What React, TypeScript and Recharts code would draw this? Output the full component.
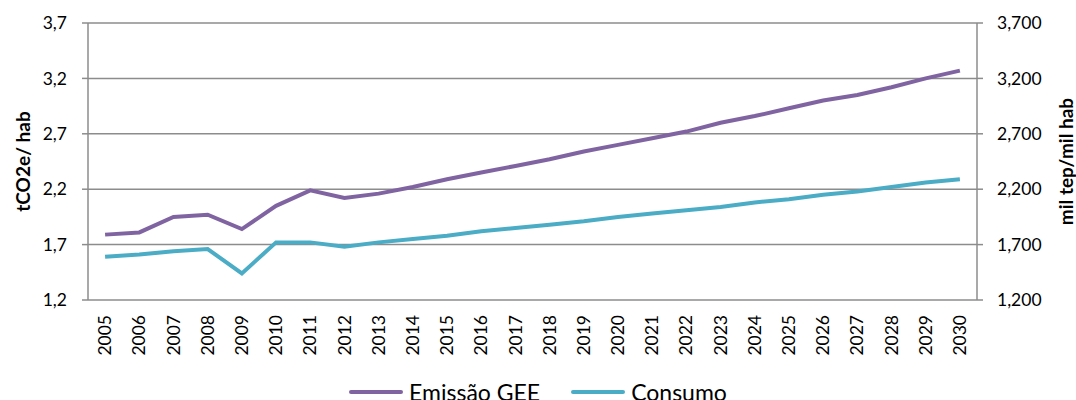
import { LineChart, Line, XAxis, YAxis, CartesianGrid, Legend } from "recharts";

const years = [
  "2005", "2006", "2007", "2008", "2009", "2010", "2011", "2012", "2013",
  "2014", "2015", "2016", "2017", "2018", "2019", "2020", "2021", "2022",
  "2023", "2024", "2025", "2026", "2027", "2028", "2029", "2030",
];
// tCO2e/hab
const emissao = [
  1.79, 1.81, 1.95, 1.97, 1.84, 2.05, 2.19, 2.12, 2.16, 2.22, 2.29, 2.35, 2.41,
  2.47, 2.54, 2.6, 2.66, 2.72, 2.8, 2.86, 2.93, 3.0, 3.05, 3.12, 3.2, 3.27,
];
// mil tep/mil hab
const consumo = [
  1590, 1610, 1640, 1660, 1440, 1720, 1720, 1680, 1720, 1750, 1780, 1820, 1850,
  1880, 1910, 1950, 1980, 2010, 2040, 2080, 2110, 2150, 2180, 2220, 2260, 2290,
];
const seriesNames = ["Emissão GEE", "Consumo"];
const leftTicks = [1.2, 1.7, 2.2, 2.7, 3.2, 3.7];
const rightTicks = [1200, 1700, 2200, 2700, 3200, 3700];

const data = years.map((year, i) => ({
  year,
  idx: i,
  emissao: emissao[i],
  consumo: consumo[i],
}));
const boundaries = [...years.map((_, i) => i), years.length];

const FONT = "Lato, 'Open Sans', sans-serif";
const GRID = "#8c8c8c";
const PURPLE = "#8064A2";
const TEAL = "#4BACC6";

function YearTick({ x, y, payload }: any) {
  return (
    <text
      x={x}
      y={y}
      transform={`rotate(-90 ${x} ${y})`}
      textAnchor="end"
      dy="0.35em"
      fontSize={17.5}
      fontFamily={FONT}
      fill="#000"
    >
      {payload.value}
    </text>
  );
}

function AxisTitle({ viewBox, value, dx }: any) {
  const x = viewBox.x + dx;
  const y = viewBox.y + viewBox.height / 2;
  return (
    <text
      x={x}
      y={y}
      transform={`rotate(-90 ${x} ${y})`}
      textAnchor="middle"
      dy="0.35em"
      fontSize={19}
      fontWeight="bold"
      fontFamily={FONT}
      fill="#000"
    >
      {value}
    </text>
  );
}

function LegendContent({ payload }: any) {
  const items = [...(payload || [])].sort(
    (a: any, b: any) => seriesNames.indexOf(a.value) - seriesNames.indexOf(b.value)
  );
  return (
    <div
      style={{
        display: "flex",
        justifyContent: "center",
        alignItems: "center",
        height: 22,
        fontFamily: FONT,
        fontSize: 23,
        color: "#000",
      }}
    >
      {items.map((item: any, i: number) => (
        <div key={item.value} style={{ display: "flex", alignItems: "center", marginLeft: i ? 31 : 0 }}>
          <svg width={54} height={6} style={{ marginRight: 6 }}>
            <line x1={2} y1={3} x2={52} y2={3} stroke={item.color} strokeWidth={4} strokeLinecap="round" />
          </svg>
          <span>{item.value}</span>
        </div>
      ))}
    </div>
  );
}

export default function App() {
  return (
    <div style={{ position: "absolute", left: 0, top: 0 }}>
      <LineChart width={1076} height={400} data={data} margin={{ top: 23, right: 0, left: 0, bottom: 0 }}>
        <CartesianGrid yAxisId="left" xAxisId="years" vertical={false} stroke={GRID} strokeWidth={1.5} />
        <XAxis
          xAxisId="frame"
          type="number"
          dataKey="idx"
          domain={[0, years.length]}
          ticks={boundaries}
          allowDataOverflow
          height={0}
          stroke={GRID}
          strokeWidth={1.5}
          tickSize={6}
          tick={() => <g />}
        />
        <XAxis
          xAxisId="years"
          dataKey="year"
          type="category"
          scale="band"
          interval={0}
          height={78}
          axisLine={false}
          tickLine={false}
          tickSize={0}
          tickMargin={15}
          tick={<YearTick />}
        />
        <YAxis
          yAxisId="left"
          domain={[1.2, 3.7]}
          ticks={leftTicks}
          width={88}
          stroke={GRID}
          strokeWidth={1.5}
          tickSize={6}
          tickMargin={15}
          tick={{ fill: "#000", fontSize: 17.5, fontFamily: FONT }}
          tickFormatter={(v: number) => v.toFixed(1).replace(".", ",")}
          label={(p: any) => <AxisTitle {...p} value="tCO2e/ hab" dx={23} />}
        />
        <YAxis
          yAxisId="right"
          orientation="right"
          domain={[1200, 3700]}
          ticks={rightTicks}
          width={99}
          stroke={GRID}
          strokeWidth={1.5}
          tickSize={6}
          tickMargin={14}
          tick={{ fill: "#000", fontSize: 17.5, fontFamily: FONT }}
          tickFormatter={(v: number) => v.toLocaleString("en-US")}
          label={(p: any) => <AxisTitle {...p} value="mil tep/mil hab" dx={89} />}
        />
        <Legend verticalAlign="bottom" content={<LegendContent />} wrapperStyle={{ bottom: -3 }} />
        <Line
          xAxisId="years"
          yAxisId="left"
          dataKey="emissao"
          name="Emissão GEE"
          stroke={PURPLE}
          strokeWidth={4}
          dot={false}
          isAnimationActive={false}
        />
        <Line
          xAxisId="years"
          yAxisId="right"
          dataKey="consumo"
          name="Consumo"
          stroke={TEAL}
          strokeWidth={4}
          dot={false}
          isAnimationActive={false}
        />
      </LineChart>
    </div>
  );
}
